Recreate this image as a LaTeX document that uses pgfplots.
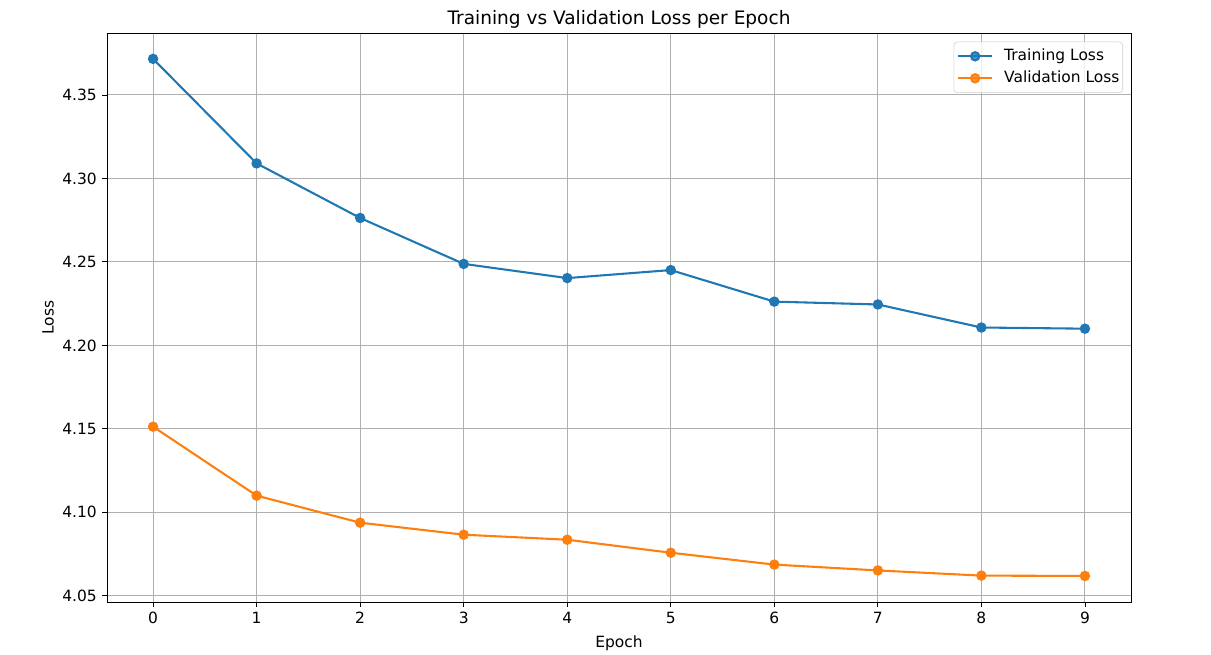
\documentclass[border=0pt]{standalone}
\usepackage{pgfplots}
\pgfplotsset{compat=1.18}
\usepackage{fontspec}
\setmainfont{DejaVu Sans}
\definecolor{tabblue}{HTML}{1F77B4}
\definecolor{taborange}{HTML}{FF7F0E}
\definecolor{gridgray}{HTML}{B0B0B0}
\definecolor{legendgray}{HTML}{CCCCCC}
\begin{document}
\fontsize{11.6pt}{14pt}\selectfont
\begin{tikzpicture}
\useasboundingbox (-80.25pt,-39.75pt) rectangle ++(908.25pt,491.25pt);
\begin{axis}[
  at={(0,0)}, anchor=south west,
  scale only axis,
  width=768pt, height=426.75pt,
  xmin=-0.445, xmax=9.445,
  ymin=4.0463, ymax=4.3871,
  xtick={0,1,...,9},
  ytick={4.05,4.10,4.15,4.20,4.25,4.30,4.35},
  yticklabel style={/pgf/number format/.cd, fixed, fixed zerofill, precision=2},
  /pgf/number format/assume math mode=true,
  tick label style={font=\fontsize{11.6pt}{14pt}\selectfont},
  tick align=outside,
  tick pos=left,
  major tick length=3.6pt,
  tick style={black, line width=0.6pt},
  axis line style={line width=0.6pt},
  grid=major,
  major grid style={gridgray, line width=0.83pt},
  title={Training vs Validation Loss per Epoch},
  title style={at={(axis description cs:0.5,1.028)}, anchor=center, yshift=-7.5pt,
    font=\fontsize{13.9pt}{16pt}\selectfont},
  xlabel={Epoch},
  ylabel={Loss},
  label style={font=\fontsize{11.6pt}{14pt}\selectfont},
  xlabel style={at={(axis description cs:0.5,-0.072)}, anchor=center},
  ylabel style={at={(axis description cs:-0.0575,0.5)}, anchor=center},
  legend style={draw=legendgray, rounded corners=2.5pt, fill=white, fill opacity=0.8, text opacity=1,
    at={(0.9922,0.9847)}, anchor=north east,
    font=\fontsize{11.6pt}{14pt}\selectfont,
    inner xsep=2.5pt, inner ysep=5.4pt,
    nodes={inner sep=0pt, text height=8.5pt, text depth=2.2pt},
    row sep=5.8pt, column sep=8.25pt},
  legend cell align=left,
  legend image code/.code={
    \draw[mark repeat=2, mark phase=2, #1] plot coordinates {(0pt,0pt) (12.75pt,0pt) (25.5pt,0pt)};
  },
]
\addplot[tabblue, line width=1.56pt, mark=*, mark size=3.1pt, mark options={solid}] coordinates {
  (0,4.3716) (1,4.3090) (2,4.2763) (3,4.2488) (4,4.2403) (5,4.2451)
  (6,4.2262) (7,4.2245) (8,4.2107) (9,4.2100)
};
\addlegendentry{Training Loss}
\addplot[taborange, line width=1.56pt, mark=*, mark size=3.1pt, mark options={solid}] coordinates {
  (0,4.1513) (1,4.1100) (2,4.0938) (3,4.0866) (4,4.0836) (5,4.0758)
  (6,4.0687) (7,4.0652) (8,4.0621) (9,4.0619)
};
\addlegendentry{Validation Loss}
\end{axis}
\end{tikzpicture}
\end{document}
